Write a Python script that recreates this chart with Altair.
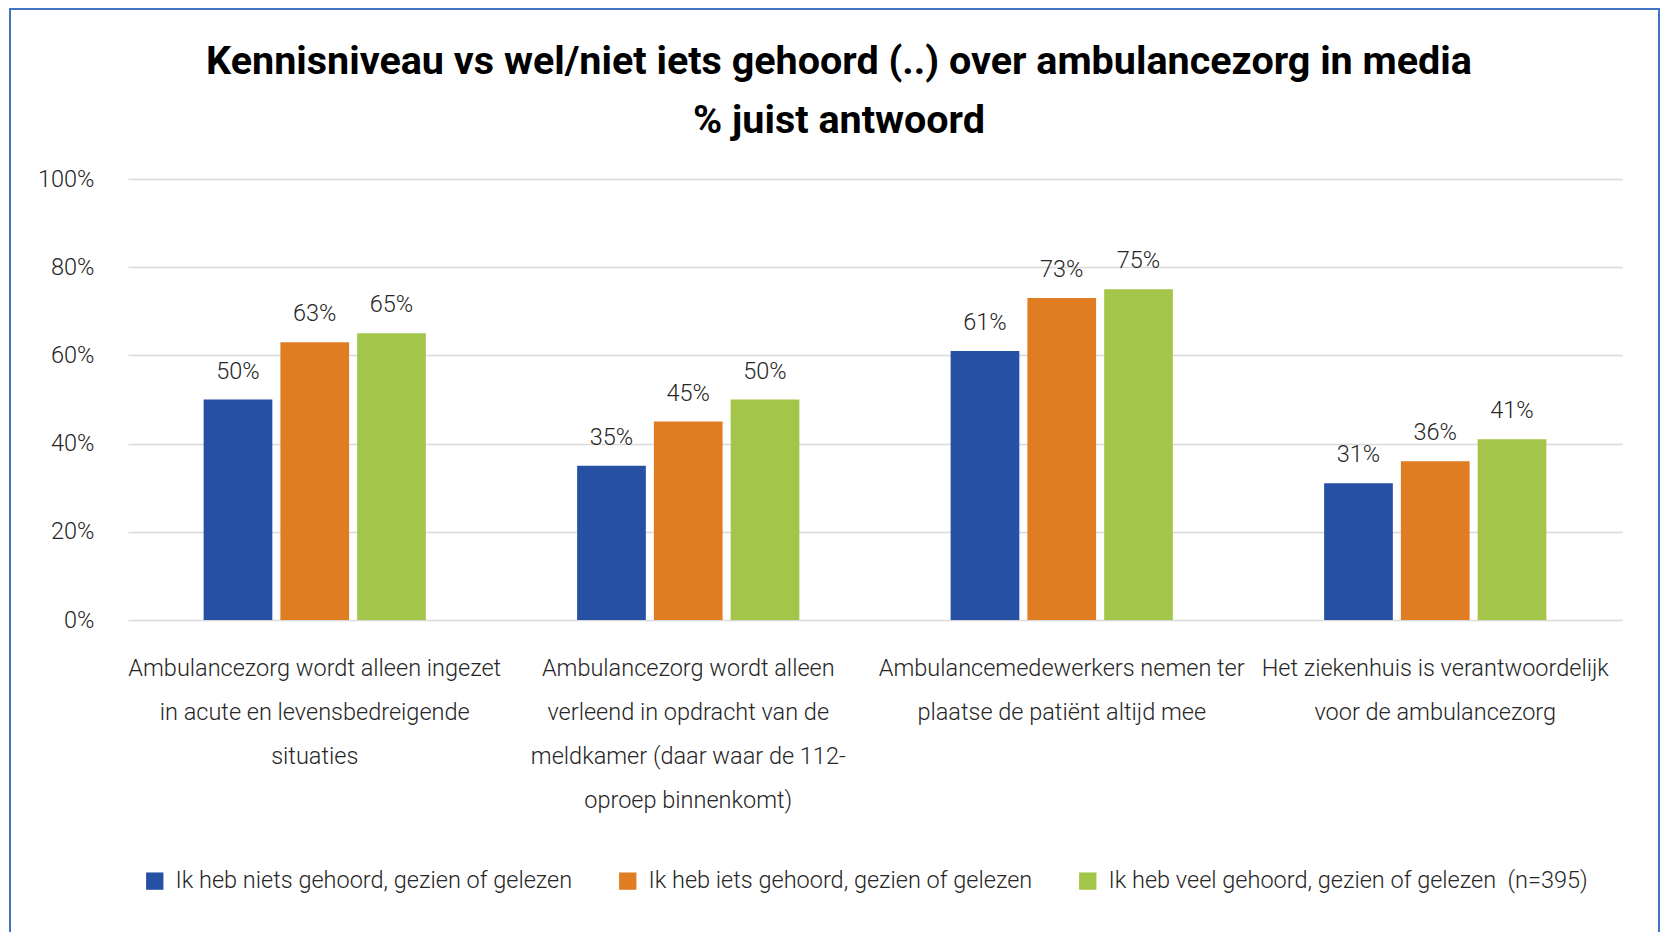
import altair as alt
import pandas as pd

categories = [
    "Ambulancezorg wordt alleen ingezet\nin acute en levensbedreigende\nsituaties",
    "Ambulancezorg wordt alleen\nverleend in opdracht van de\nmeldkamer (daar waar de 112-\noproep binnenkomt)",
    "Ambulancemedewerkers nemen ter\nplaatse de patiënt altijd mee",
    "Het ziekenhuis is verantwoordelijk\nvoor de ambulancezorg",
]
series = [
    "Ik heb niets gehoord, gezien of gelezen",
    "Ik heb iets gehoord, gezien of gelezen",
    "Ik heb veel gehoord, gezien of gelezen \u00a0(n=395)",
]
niets = [50, 35, 61, 31]
iets = [63, 45, 73, 36]
veel = [65, 50, 75, 41]
colors = ["#2550A4", "#E07C22", "#A2C54A"]
y_ticks = [0, 20, 40, 60, 80, 100]

rows = []
for i, c in enumerate(categories):
    for s, vals in zip(series, [niets, iets, veel]):
        rows.append({"cat": c, "series": s, "value": vals[i]})
df = pd.DataFrame(rows)

FONT = "Roboto, sans-serif"
TFONT = "Roboto, sans-serif"
FS = 23.5
TXT = "#262626"
W, H = 1494, 441

x = alt.X("cat:N", sort=categories, title=None,
          scale=alt.Scale(paddingInner=0.405, paddingOuter=0.2025),
          axis=alt.Axis(labelAngle=0, labelExpr="split(datum.label, '\\n')",
                        labelFont=FONT, labelFontSize=FS, labelColor=TXT,
                        labelFontWeight=300,
                        labelLineHeight=44, labelPadding=36, ticks=False,
                        domain=False, labelLimit=400))
xo = alt.XOffset("series:N", sort=series,
                 scale=alt.Scale(paddingInner=0.105, paddingOuter=0))
y = alt.Y("value:Q", title=None,
          scale=alt.Scale(domain=[0, 100]),
          axis=alt.Axis(values=y_ticks, labelExpr="datum.value + '%'",
                        labelFont=FONT, labelFontSize=FS, labelColor=TXT,
                        labelFontWeight=300,
                        labelPadding=34, ticks=False, domain=False,
                        gridColor="#D9D9D9", gridWidth=1.5))
color = alt.Color("series:N", sort=series,
                  scale=alt.Scale(domain=series, range=colors),
                  legend=alt.Legend(title=None, orient="none", direction="horizontal",
                                    legendX=15, legendY=690,
                                    symbolType="square", symbolSize=300,
                                    symbolStrokeWidth=0, symbolOpacity=1,
                                    labelFont=FONT, labelFontSize=FS,
                                    labelFontWeight=300,
                                    labelColor=TXT, labelOffset=9,
                                    columnPadding=43, labelLimit=600))

bars = alt.Chart(df).mark_bar().encode(x=x, xOffset=xo, y=y, color=color)
labels = alt.Chart(df).transform_calculate(lbl="datum.value + '%'").mark_text(
    baseline="alphabetic", dy=-21, font=FONT, fontSize=FS, fontWeight=300, color=TXT
).encode(
    x=alt.X("cat:N", sort=categories),
    xOffset=alt.XOffset("series:N", sort=series),
    y="value:Q",
    text="lbl:N",
)

frame = alt.Chart(pd.DataFrame({"f": [0]})).mark_rect(
    fillOpacity=0, stroke="#4472C4", strokeWidth=2
).encode(x=alt.value(-118), x2=alt.value(W + 37), y=alt.value(-170), y2=alt.value(H + 400))

chart = alt.layer(frame, bars, labels).properties(
    width=W, height=H,
    title=alt.TitleParams(
        text=["Kennisniveau vs wel/niet iets gehoord (..) over ambulancezorg in media",
              "% juist antwoord"],
        font=TFONT, fontSize=39.5, fontWeight="bold", color="#000000",
        anchor="middle", frame="group", dx=-36, offset=-133, lineHeight=59),
    autosize=alt.AutoSizeParams(type="none"),
    padding={"left": 120, "top": 171, "right": 39, "bottom": 312},
    background="white",
).configure_view(stroke=None)

chart.save("out.html", embed_options={"renderer": "svg", "actions": False})
